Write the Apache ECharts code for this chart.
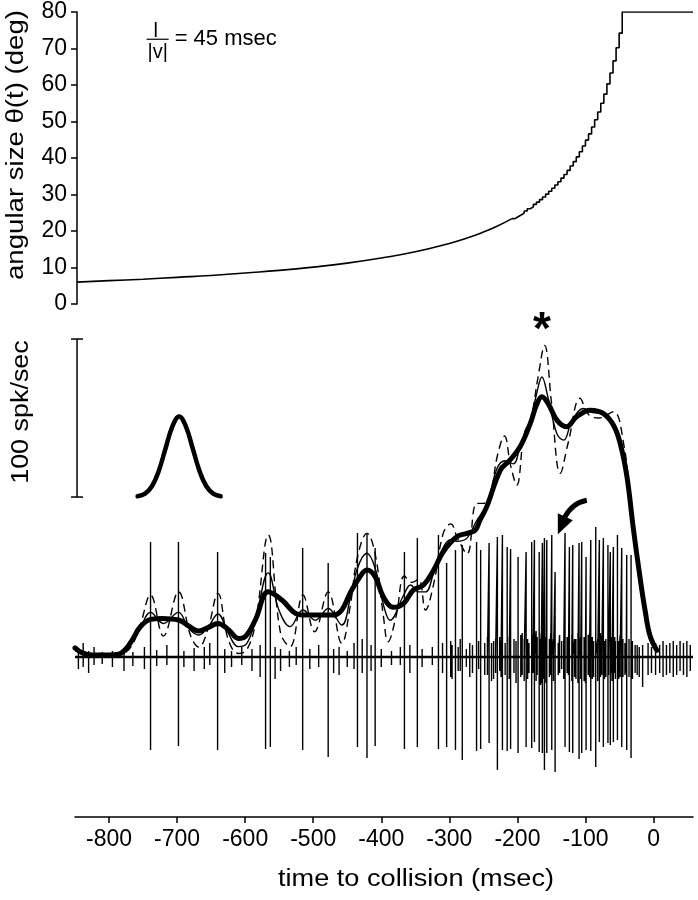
<!DOCTYPE html>
<html>
<head>
<meta charset="utf-8">
<script src="https://cdn.jsdelivr.net/npm/echarts@6/dist/echarts.min.js"></script>
<style>
  html, body { margin: 0; padding: 0; background: #fff; }
  #chart { width: 698px; height: 900px; }
</style>
</head>
<body>
<div id="chart"></div>
<script>
// time axis (msec before collision)
const timeTicks = [-800, -700, -600, -500, -400, -300, -200, -100, 0];

// angular size theta(t), smooth early part
const thetaTime = [-847, -800, -750, -700, -650, -600, -550, -500, -450, -400, -350, -300, -275, -250, -230, -208];
const thetaDeg = [6.0, 6.4, 6.8, 7.3, 7.8, 8.5, 9.2, 10.1, 11.2, 12.6, 14.3, 16.6, 18.0, 19.7, 21.3, 23.4];
// late part, one step per frame, then held at 80 deg
const stepTime = [-208, -203.5, -199, -194.5, -190, -185.5, -181, -176.5, -172, -167.5, -163, -158.5, -154, -149.5, -145, -140.5, -136, -131.5, -127, -122.5, -118, -113.5, -109, -104.5, -100, -95.5, -91, -86.5, -82, -77.5, -73, -68.5, -64, -59.5, -55, -50.5, -46, 58];
const stepDeg = [23.4, 23.9, 24.4, 24.9, 25.5, 26.1, 26.6, 27.3, 27.9, 28.6, 29.3, 30.1, 30.9, 31.7, 32.6, 33.5, 34.5, 35.5, 36.6, 37.8, 39.0, 40.3, 41.7, 43.3, 44.9, 46.6, 48.5, 50.5, 52.6, 55.0, 57.5, 60.3, 63.3, 66.6, 70.2, 74.2, 80, 80];

// recorded spikes: time, deflection up / down
const spikeTime = [-739, -698, -640.5, -570, -563, -515.5, -478, -435, -421, -409, -366, -347, -316, -304, -291, -281, -260, -254, -241.6, -229.4, -222, -215, -210, -199, -187.2, -179, -175, -168, -163.3, -160.3, -156.8, -149.5, -144.6, -130, -123.6, -118.7, -109.4, -105.5, -99.1, -92.2, -84.9, -79.6, -73.7, -67, -63.5, -59, -53, -46.7, -39.4, -33];
const spikeUp = [115, 115, 105, 104, 100, 109, 94, 124, 124, 109, 105, 119, 122, 94, 107, 112, 115, 107, 114, 120, 122, 110, 108, 100, 105, 115, 117, 105, 114, 119, 117, 122, 85, 124, 110, 112, 114, 115, 100, 117, 130, 117, 119, 112, 105, 110, 122, 109, 102, 102];
const spikeDown = [93, 89, 93, 92, 90, 93, 100, 90, 101, 89, 92, 90, 92, 90, 93, 103, 94, 92, 86, 113, 93, 94, 92, 96, 90, 91, 85, 95, 96, 113, 96, 93, 115, 90, 95, 96, 102, 96, 93, 94, 110, 85, 90, 86, 88, 85, 83, 90, 93, 101];

// small background deflections on the trace
const noiseTime = [-845, -838, -830, -822, -810, -795, -778, -765, -748, -730, -715, -690, -675, -660, -652, -630, -620, -605, -590, -578, -556, -548, -535, -525, -505, -492, -470, -462, -450, -440, -428, -415, -400, -385, -372, -358, -340, -325, -310, -298, -287, -275, -266, -248, -235, -226, -218, -205, -195, -190, -183, -171, -165, -153, -140, -135, -127, -114, -102, -96, -88, -76, -70, -62, -56, -49, -42, -36, -27, -21, -16, -8, -3, 3, 9, 14, 19, 24, 29, 34, 39, 44, 49, 54];
const noiseUp = [8, 14, 6, 10, 5, 6, 8, 5, 10, 7, 12, 6, 9, 10, 14, 8, 6, 10, 8, 12, 10, 8, 6, 10, 8, 12, 8, 10, 6, 14, 18, 12, 8, 6, 10, 12, 8, 10, 14, 16, 10, 8, 12, 14, 16, 20, 14, 18, 22, 18, 14, 20, 24, 18, 14, 16, 20, 18, 20, 22, 16, 22, 18, 20, 16, 22, 14, 18, 12, 10, 12, 14, 10, 14, 12, 16, 12, 14, 16, 12, 16, 14, 16, 12];
const noiseDown = [12, 10, 16, 8, 7, 10, 14, 9, 12, 9, 8, 10, 14, 12, 8, 16, 10, 8, 14, 20, 22, 14, 10, 8, 12, 10, 16, 18, 10, 12, 16, 14, 10, 8, 8, 16, 10, 8, 16, 20, 14, 10, 16, 18, 22, 14, 18, 16, 20, 24, 16, 18, 26, 20, 18, 12, 16, 22, 24, 18, 20, 18, 20, 16, 22, 20, 18, 20, 16, 20, 30, 18, 16, 18, 16, 20, 18, 16, 20, 18, 14, 18, 20, 14];
// denser background during the burst
const burstTime = [-296, -284, -270, -257, -244, -238, -232, -224, -212, -202, -193, -185, -177, -172.5, -166, -162, -158, -151, -147, -138, -132, -125, -120, -116, -111, -107, -100, -94, -90, -82, -78, -72, -66, -61, -57, -51, -45, -40, -31, -24];
const burstUp = [12, 18, 14, 16, 20, 14, 18, 16, 20, 16, 24, 18, 22, 26, 18, 28, 20, 24, 18, 22, 16, 20, 22, 18, 24, 20, 18, 24, 20, 18, 24, 16, 22, 18, 20, 16, 18, 14, 16, 12];
const burstDown = [22, 14, 20, 12, 18, 24, 16, 20, 22, 26, 18, 22, 16, 24, 28, 22, 26, 18, 24, 16, 22, 18, 24, 20, 26, 22, 26, 20, 22, 24, 20, 22, 18, 24, 16, 22, 20, 16, 22, 18];

// firing rate (spk/sec), three smoothing widths
const thickTime = [-850, -840, -825, -800, -786, -775, -766, -754, -739, -722, -698, -683, -668, -654, -640, -624, -610, -600, -585, -566, -546, -526, -512, -494, -470, -458, -446, -433, -421, -409, -397, -382, -367, -353, -338, -323, -309, -289, -274, -262, -255, -245, -225, -211, -196, -181, -172, -164, -155, -142, -128, -113, -93, -74, -59, -49, -39, -30, -20, -12.5, -5, 5];
const thickRate = [4.5, 1.5, 0, 0, 0.5, 4, 9.5, 17.9, 22.6, 23.2, 22.2, 18.4, 15.2, 17.5, 20, 15.8, 10.5, 11.6, 22.2, 40, 34.8, 26.4, 25.3, 25.3, 25.3, 28.5, 39, 48.5, 53.8, 49.6, 36.9, 30.2, 32.7, 41.1, 44.3, 53.8, 65.4, 74.9, 77, 79, 85.4, 93.9, 117, 123.4, 131.8, 146.6, 158.2, 163.5, 159.3, 148.7, 144.5, 150.8, 155, 153, 145.6, 134, 112.8, 81.2, 49.6, 28.5, 12, 3];
const thinTime = [-850, -825, -790, -770, -755, -739, -720, -698, -683, -668, -654, -640, -625, -610, -598, -585, -566, -550, -534, -515, -497, -478, -458, -446, -435, -421, -409, -397, -387, -367, -357, -345, -335, -323, -309, -298, -289, -274, -260, -245, -230, -218, -206, -196, -181, -172, -164, -155, -142, -132, -120, -103, -93, -74, -59, -49, -39, -30, -20, -12, -5, 5];
const thinRate = [3, 0, 0.5, 6, 16, 27, 20, 27, 17, 12.7, 18, 26, 14, 5.3, 7, 22, 52, 28, 18, 28.5, 22, 29.5, 19, 35, 55, 64.4, 55, 32, 22, 38, 44.3, 40, 40, 52, 68, 73, 72, 74, 85, 95, 118, 123, 121, 132, 148, 165, 176, 163, 140, 136, 148, 156, 154, 152, 147, 137, 116, 85, 52, 30, 12, 3];
const dashTime = [-850, -825, -790, -770, -755, -739, -720, -698, -680, -668, -655, -640, -625, -610, -598, -585, -566, -548, -534, -515, -498, -478, -458, -446, -435, -421, -409, -397, -390, -378, -366, -355, -345, -335, -323, -309, -298, -288, -274, -260, -250, -240, -230, -219, -210, -201, -190, -180, -170, -160, -150, -137, -125, -108, -95, -80, -59, -44, -34, -22, -12, -4, 5];
const dashRate = [3, 0, 0, 4, 18, 38, 12, 40, 12, 5, 16, 39, 10, 1, 3, 20, 76, 14, 5.3, 38, 14.7, 40, 7.4, 30, 62, 77, 64, 25, 8.4, 25, 50, 46, 48, 28.5, 45, 77, 83, 74, 64, 96, 96, 100, 125, 138.6, 120, 107.6, 140, 150, 175, 196, 160, 115, 135, 162.5, 152, 150, 154, 134, 98, 56, 25, 8, 2];

// smoothing kernel drawn next to the scale bar (base at 100 spk/sec)
const kernelTime = [-758, -747, -737, -727, -717, -707, -697, -687, -677, -667, -657, -647, -636];
const kernelRate = [100.5, 102.2, 106.8, 116.4, 130.7, 144.6, 151, 144.6, 130.7, 116.4, 106.8, 102.2, 100.5];

const zip = (a, b) => a.map((v, i) => [v, b[i]]);

// trace: every event is a vertical stroke through the baseline
const events = spikeTime.map((t, i) => [t, spikeUp[i], spikeDown[i]])
  .concat(noiseTime.map((t, i) => [t, noiseUp[i], noiseDown[i]]))
  .concat(burstTime.map((t, i) => [t, burstUp[i], burstDown[i]]))
  .sort((a, b) => a[0] - b[0]);
const traceData = [[-850, 0]];
events.forEach(e => {
  traceData.push([e[0], 0], [e[0], e[1]], [e[0], -e[2]], [e[0], 0]);
});
traceData.push([58, 0]);

const FONT = 'Liberation Sans';
const chart = echarts.init(document.getElementById('chart'));

const option = {
  animation: false,
  backgroundColor: '#fff',
  textStyle: { fontFamily: FONT, color: '#000' },
  grid: [
    { left: 77, right: 5, top: 12, bottom: 596 },
    { left: 75, right: 5, top: 300, bottom: 83 }
  ],
  xAxis: [
    { gridIndex: 0, type: 'value', min: -847, max: 58, show: false },
    {
      gridIndex: 1, type: 'value', min: -850, max: 58,
      axisLine: { onZero: false, lineStyle: { color: '#000', width: 1.6 } },
      axisTick: { customValues: timeTicks, length: 6, lineStyle: { color: '#000', width: 1.5 } },
      axisLabel: { customValues: timeTicks, fontSize: 23, color: '#000', margin: 11, fontFamily: FONT },
      splitLine: { show: false }
    }
  ],
  yAxis: [
    {
      gridIndex: 0, type: 'value', min: 0, max: 80, interval: 10,
      axisLine: { show: true, onZero: false, lineStyle: { color: '#000', width: 1.5 } },
      axisTick: { show: true, length: 6, lineStyle: { color: '#000', width: 1.5 } },
      axisLabel: { fontSize: 23, color: '#000', margin: 10, fontFamily: FONT },
      splitLine: { show: false }
    },
    { gridIndex: 1, type: 'value', min: -102.5, max: 224.7, show: false },
    { gridIndex: 1, type: 'value', min: -160, max: 357, show: false }
  ],
  series: [
    {
      name: 'theta', type: 'line', xAxisIndex: 0, yAxisIndex: 0, smooth: true,
      symbol: 'none', data: zip(thetaTime, thetaDeg),
      lineStyle: { color: '#000', width: 1.6 }
    },
    {
      name: 'theta steps', type: 'line', xAxisIndex: 0, yAxisIndex: 0, step: 'end',
      symbol: 'none', data: zip(stepTime, stepDeg),
      lineStyle: { color: '#000', width: 1.6 }
    },
    {
      name: 'trace', type: 'line', xAxisIndex: 1, yAxisIndex: 2,
      symbol: 'none', data: traceData,
      lineStyle: { color: '#000', width: 1.4 }
    },
    {
      name: 'trace baseline', type: 'line', xAxisIndex: 1, yAxisIndex: 2,
      symbol: 'none', data: [[-850, 0], [58, 0]],
      lineStyle: { color: '#000', width: 2.6 }
    },
    {
      name: 'rate narrow', type: 'line', xAxisIndex: 1, yAxisIndex: 1, smooth: 0.4,
      symbol: 'none', data: zip(dashTime, dashRate),
      lineStyle: { color: '#000', width: 1.4, type: [8, 5] }
    },
    {
      name: 'rate medium', type: 'line', xAxisIndex: 1, yAxisIndex: 1, smooth: 0.4,
      symbol: 'none', data: zip(thinTime, thinRate),
      lineStyle: { color: '#000', width: 1.4 }
    },
    {
      name: 'rate wide', type: 'line', xAxisIndex: 1, yAxisIndex: 1, smooth: 0.4,
      symbol: 'none', data: zip(thickTime, thickRate),
      lineStyle: { color: '#000', width: 5, cap: 'round', join: 'round' }
    },
    {
      name: 'kernel', type: 'line', xAxisIndex: 1, yAxisIndex: 1, smooth: 0.4,
      symbol: 'none', data: zip(kernelTime, kernelRate),
      lineStyle: { color: '#000', width: 4.5, cap: 'round' }
    }
  ]
};
chart.setOption(option);

// annotations, placed from data coordinates
const ratePx = (t, r) => chart.convertToPixel({ seriesIndex: 6 }, [t, r]);
const anglePx = (t, d) => chart.convertToPixel({ seriesIndex: 0 }, [t, d]);

const sb0 = ratePx(-847, 100);
const sb1 = ratePx(-847, 200);
const frac = anglePx(-730, 75);
const star = ratePx(-164, 212);
const arr = ratePx(-98, 98);
const blk = { stroke: '#000', lineWidth: 1.5 };

const graphics = [
  // 100 spk/sec scale bar
  { type: 'line', shape: { x1: sb0[0], y1: sb0[1], x2: sb1[0], y2: sb1[1] }, style: blk },
  { type: 'line', shape: { x1: sb0[0] - 6, y1: sb0[1], x2: sb0[0] + 6, y2: sb0[1] }, style: blk },
  { type: 'line', shape: { x1: sb1[0] - 6, y1: sb1[1], x2: sb1[0] + 6, y2: sb1[1] }, style: blk },
  {
    type: 'text', x: 22, y: (sb0[1] + sb1[1]) / 2 - 6, rotation: Math.PI / 2, scaleX: 1.17,
    style: { text: '100 spk/sec', font: '23px "' + FONT + '"', fill: '#000', textAlign: 'center', textVerticalAlign: 'middle' }
  },
  // axis titles
  {
    type: 'text', x: 17, y: 145, rotation: Math.PI / 2, scaleX: 1.2,
    style: { text: 'angular size θ(t) (deg)', font: '23px "' + FONT + '"', fill: '#000', textAlign: 'center', textVerticalAlign: 'middle' }
  },
  {
    type: 'text', x: 416, y: 880, scaleX: 1.18,
    style: { text: 'time to collision (msec)', font: '23px "' + FONT + '"', fill: '#000', textAlign: 'center', textVerticalAlign: 'middle' }
  },
  // l/|v| = 45 msec
  {
    type: 'text', x: frac[0] - 1, y: frac[1] + 1,
    style: { text: 'l', font: '20px "' + FONT + '"', fill: '#000', textAlign: 'center', textVerticalAlign: 'middle' }
  },
  { type: 'line', shape: { x1: frac[0] - 10, y1: frac[1] + 9, x2: frac[0] + 12, y2: frac[1] + 9 }, style: { stroke: '#000', lineWidth: 1.2 } },
  {
    type: 'text', x: frac[0] + 1, y: frac[1] + 22,
    style: { text: '|v|', font: '20px "' + FONT + '"', fill: '#000', textAlign: 'center', textVerticalAlign: 'middle' }
  },
  {
    type: 'text', x: frac[0] + 18, y: frac[1] + 9,
    style: { text: '= 45 msec', font: '22px "' + FONT + '"', fill: '#000', textAlign: 'left', textVerticalAlign: 'middle' }
  },
  // asterisk over the peak
  {
    type: 'text', x: star[0], y: star[1] + 11,
    style: { text: '*', font: 'bold 46px "' + FONT + '"', fill: '#000', textAlign: 'center', textVerticalAlign: 'middle' }
  },
  // curved arrow
  {
    type: 'bezierCurve',
    shape: { x1: arr[0], y1: arr[1], cpx1: arr[0] - 15, cpy1: arr[1] + 3, x2: arr[0] - 22, y2: arr[1] + 17 },
    style: { stroke: '#000', lineWidth: 5, fill: null }
  },
  {
    type: 'polygon',
    shape: { points: [[arr[0] - 29, arr[1] + 34], [arr[0] - 14, arr[1] + 20], [arr[0] - 29, arr[1] + 13]] },
    style: { fill: '#000' }
  }
];
chart.setOption({ graphic: graphics });
</script>
</body>
</html>
